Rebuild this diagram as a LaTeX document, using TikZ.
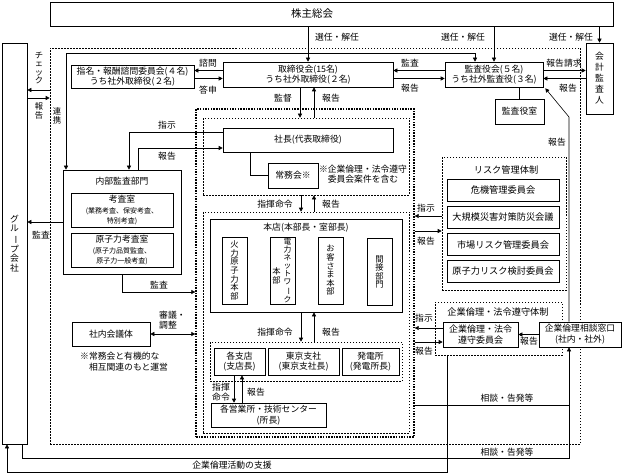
\documentclass[tikz,border=0pt]{standalone}
\usepackage{fontspec}
\setmainfont{Noto Sans CJK JP}
\usepackage{graphicx}
\usetikzlibrary{arrows.meta}
\newcommand{\choon}{\rotatebox[origin=c]{-90}{ー}}

\begin{document}
\begin{tikzpicture}[x=1pt, y=-1pt,
every node/.style={inner sep=1pt, font=\fontsize{8.8}{10.5}\selectfont},
box/.style={draw, line width=0.6pt, align=center},
rbox/.style={draw, line width=0.9pt, align=center, minimum width=112, minimum height=22,
    font=\fontsize{9.2}{11}\selectfont},
frame/.style={draw, line width=0.6pt, dash pattern=on 1.5pt off 1.5pt},
tframe/.style={draw, line width=1.3pt, dash pattern=on 1.5pt off 1.2pt},
vtext/.style={align=center, font=\fontsize{8.3}{8.6}\selectfont},
small/.style={font=\fontsize{7}{8}\selectfont},
arr/.style={line width=0.6pt, -{Triangle[length=4pt,width=4pt]}},
arrs/.style={line width=0.6pt, {Triangle[length=4pt,width=4pt]}-{Triangle[length=4pt,width=4pt]}}
]
\useasboundingbox (0,0) rectangle (623,473);

% frames
\node[frame, minimum width=530, minimum height=396] (outer) at (315,246) {};
\node[tframe, minimum width=218, minimum height=328] (exec) at (305,273) {};
\node[frame, minimum width=206, minimum height=77] (grp1) at (306,156.5) {};
\node[frame, minimum width=206, minimum height=221] (grp2) at (306,322.5) {};
\node[frame, minimum width=192, minimum height=39] (grp3) at (306,361.5) {};
\node[frame, minimum width=124, minimum height=133] (riskframe) at (504,223.5) {};
\node[frame, minimum width=127, minimum height=53] (rinriframe) at (498.5,328.5) {};

% boxes
\node[box, minimum width=563, minimum height=24] (soukai) at (331.5,14) {};
\node[font=\fontsize{10.5}{12}\selectfont] (soukaitxt) at (312,14) {株主総会};
\node[box, minimum width=170, minimum height=25] (tori) at (308,74.5) {取締役会(15名)\\うち社外取締役(２名)};
\node[box, minimum width=98, minimum height=25] (kansayakukai) at (494,74.5) {監査役会(５名)\\うち社外監査役(３名)};
\node[box, minimum width=27, minimum height=71, align=center, font=\fontsize{8.8}{11}\selectfont] (kaikei) at (599.5,78.5) {会\\計\\監\\査\\人};
\node[box, minimum width=49, minimum height=25] (kansashitsu) at (519.5,111.5) {監査役室};
\node[box, minimum width=123, minimum height=23] (shimei) at (132.5,76.5) {指名・報酬諮問委員会(４名)\\うち社外取締役(２名)};
\node[box, minimum width=25, minimum height=401, align=center, font=\fontsize{8.8}{9.6}\selectfont] (group) at (14.5,243.5) {グ\\ル\\\choon\\プ\\会\\社};

\node[box, minimum width=170, minimum height=24] (shacho) at (308,140) {社長(代表取締役)};
\node[box, minimum width=50, minimum height=25] (jomukai) at (293,175.5) {常務会※};
\node[align=center] (jomunote) at (363,174) {※企業倫理・法令遵守\\委員会案件を含む};

\node[box, minimum width=118, minimum height=104] (naibu) at (122,222) {};
\node (naibutxt) at (122,181) {内部監査部門};
\node[box, minimum width=102, minimum height=34] (kousa) at (122,210)
    {考査室\\\fontsize{7}{8.5}\selectfont (業務考査、保安考査、\\\fontsize{7}{8.5}\selectfont 特別考査)};
\node[box, minimum width=102, minimum height=34] (genkousa) at (122,250)
    {原子力考査室\\\fontsize{7}{8.5}\selectfont (原子力品質監査、\\\fontsize{7}{8.5}\selectfont 原子力一般考査)};

\node[box, minimum width=192, minimum height=93] (honten) at (306,265.5) {};
\node (hontentxt) at (306,228) {本店(本部長・室部長)};
\node[box, vtext, minimum width=25, minimum height=67] (karyoku) at (234.5,270.5) {火\\力\\原\\子\\力\\本\\部};
\node[box, minimum width=25, minimum height=67] (network) at (282.5,270.5) {};
\node[vtext, font=\fontsize{7.8}{8.1}\selectfont] (networkA) at (287.5,270.5) {電\\力\\ネ\\ッ\\ト\\ワ\\\choon\\ク};
\node[vtext] (networkB) at (276.5,276) {本\\部};
\node[box, vtext, minimum width=25, minimum height=67] (okyaku) at (330.5,270.5) {お\\客\\さ\\ま\\本\\部};
\node[box, vtext, minimum width=25, minimum height=67] (kansetsu) at (379.5,272) {間\\接\\部\\門};

\node[box, minimum width=51, minimum height=27] (shiten) at (239.5,361.5) {各支店\\(支店長)};
\node[box, minimum width=71, minimum height=27] (tokyo) at (303.5,361.5) {東京支社\\(東京支社長)};
\node[box, minimum width=57, minimum height=27] (hatsuden) at (370.5,361.5) {発電所\\(発電所長)};
\node[box, minimum width=115, minimum height=24] (eigyo) at (268.5,415) {各営業所・技術センター\\(所長)};

\node[box, minimum width=78, minimum height=24] (kaigi) at (111,334) {社内会議体};
\node[align=left, anchor=north west] (kaiginote) at (79,351) {※常務会と有機的な\\\phantom{※}相互関連のもと運営};

\node[font=\fontsize{9.2}{11}\selectfont] (risktitle) at (506,170) {リスク管理体制};
\foreach \n/\y/\t in {kiki/190/危機管理委員会, daikibo/217/大規模災害対策防災会議,
                     shijo/244.5/市場リスク管理委員会, genshi/271.5/原子力リスク検討委員会}
    \node[rbox] (\n) at (503,\y) {\t};

\node[font=\fontsize{9.2}{11}\selectfont] (rinrititle) at (498,312) {企業倫理・法令遵守体制};
\node[box, minimum width=75, minimum height=25, font=\fontsize{9}{11}\selectfont] (rinri) at (480.5,334.5) {企業倫理・法令\\遵守委員会};
\node[box, fill=white, minimum width=82, minimum height=25, font=\fontsize{8.8}{11}\selectfont] (madoguchi) at (580,334.5) {企業倫理相談窓口\\(社内・社外)};

% connectors
\foreach \n in {tori, kansayakukai, kaikei}
    \draw[arr] (\n.north |- soukai.south) -- (\n.north);
\coordinate (renkei) at (66,53);
\draw[arrs] ([xshift=-19pt]kansayakukai.north) |- (renkei) -- (renkei |- naibu.north);

\draw[arr] ([yshift=4pt]kansayakukai.west) -- ([yshift=4pt]kansayakukai.west -| tori.east);
\draw[arr] ([yshift=-4pt]tori.east) -- ([yshift=-4pt]tori.east -| kansayakukai.west);
\draw[arr] ([yshift=4pt]kansayakukai.east) -- ([yshift=4pt]kansayakukai.east -| kaikei.west);
\draw[arr] ([yshift=-4pt]kansayakukai.east -| kaikei.west) -- ([yshift=-4pt]kansayakukai.east);
\draw[arr] ([yshift=4pt]tori.west) -- ([yshift=4pt]tori.west -| shimei.east);
\draw[arr] ([yshift=-4pt]tori.west -| shimei.east) -- ([yshift=-4pt]tori.west);
\draw[line width=0.6pt] (kansashitsu.north) -- (kansashitsu.north |- kansayakukai.south);

\draw[arr] ([xshift=-8pt]tori.south) -- ([xshift=-8pt]tori.south |- grp1.north);
\draw[arr] ([xshift=6pt]tori.south |- grp1.north) -- ([xshift=6pt]tori.south);
\foreach \a/\b in {grp1/grp2, honten/grp3} {
    \draw[arr] ([xshift=-5pt]\a.south) -- ([xshift=-5pt]\b.north);
    \draw[arr] ([xshift=8pt]\b.north) -- ([xshift=8pt]\a.south);
}
\draw[arr] ([xshift=-5.5pt]shiten.south) -- ([xshift=-5.5pt]shiten.south |- eigyo.north);
\draw[arr] ([xshift=2.5pt]shiten.south |- eigyo.north) -- ([xshift=2.5pt]shiten.south);
\draw[line width=0.6pt] ([xshift=-58pt]shacho.south) |- (jomukai.west);

\draw[arr] ([yshift=8pt]shacho.west) -| ([xshift=7pt]naibu.north);
\draw[arr] ([xshift=16pt]naibu.north) |- ([yshift=-8pt]shacho.west);
\draw[arr] (naibu.west) -- (naibu.west -| group.east);
\draw[arr] (naibu.south) |- ([yshift=-19pt]exec.west);
\draw[arrs] (kaigi.east) -- (kaigi.east -| exec.west);
\draw[arr] ([yshift=156pt]outer.west) -- ([yshift=156pt]outer.west -| group.east);
\draw[arr] ([yshift=148pt]outer.west -| group.east) -- ([yshift=148pt]outer.west);

\draw[arr] ([yshift=7.5pt]riskframe.west) -- ([yshift=7.5pt]riskframe.west -| exec.east);
\draw[arr] ([yshift=-7.5pt]riskframe.west -| exec.east) -- ([yshift=-7.5pt]riskframe.west);
\draw[arr] ([yshift=6.5pt]rinri.west) -- ([yshift=6.5pt]rinri.west -| exec.east);
\draw[arr] ([yshift=-7.5pt]rinri.west -| exec.east) -- ([yshift=-7.5pt]rinri.west);
\draw[arr] (madoguchi.west) -- (rinri.east);

\coordinate (hokoku) at (569,117);
\draw[arr] ([xshift=-11pt]madoguchi.north) -- (hokoku) -- ([shift={(2pt,-1pt)}]kansayakukai.south east);
\coordinate (soudan) at (569,458);
\draw[arr] ([xshift=-5pt]group.south east) |- (soudan) -- ([xshift=-11pt]madoguchi.south);
\draw[line width=0.6pt] ([yshift=-132pt]exec.east) -- ([yshift=-132pt]exec.east -| soudan);
\draw[arr] ([xshift=-51.5pt]rinriframe.south) |- ([xshift=-7.5pt,yshift=-28pt]group.south) -- ([xshift=-7.5pt]group.south);

% labels
\node (lsen1) at (337,37) {選任・解任};
\node (lsen2) at (463,37) {選任・解任};
\node (lsen3) at (571,37) {選任・解任};
\node (lkansa1) at (410,63) {監査};
\node (lhou1) at (410,88) {報告};
\node (lseikyu) at (564,63) {報告請求};
\node (lhou2) at (568,88) {報告};
\node (lshimon) at (208,63) {諮問};
\node (ltoushin) at (208,90) {答申};
\node (lkantoku) at (283,98) {監督};
\node (lhou3) at (331,98) {報告};
\node (lshiji1) at (167,125) {指示};
\node (lhou4) at (167,156) {報告};
\node (lshiki1) at (275,204) {指揮命令};
\node (lhou5) at (331,204) {報告};
\node (lshiki2) at (275,332) {指揮命令};
\node (lhou6) at (331,332) {報告};
\node[align=center, font=\fontsize{8.8}{9.5}\selectfont] (lshiki3) at (221,392) {指揮\\命令};
\node (lhou7) at (256,392) {報告};
\node (lkansa2) at (41,235) {監査};
\node (lkansa3) at (159,285) {監査};
\node[align=left, anchor=west] (lshingi) at (158,320) {審議・\\調整};
\node[vtext] (lcheck) at (39,68) {チ\\ェ\\ッ\\ク};
\node[vtext] (lhou8) at (39,111) {報\\告};
\node[vtext] (lrenkei) at (57,116) {連\\携};
\node (lshiji2) at (426,208) {指示};
\node (lhou9) at (426,241) {報告};
\node (lshiji3) at (424,318) {指示};
\node (lhou10) at (424,351) {報告};
\node (lhou11) at (529,341) {報告};
\node (lhou12) at (557,142) {報告};
\node (lsoudan1) at (507,398) {相談・告発等};
\node (lsoudan2) at (507,452) {相談・告発等};
\node (lshien) at (232,465) {企業倫理活動の支援};

\end{tikzpicture}
\end{document}
